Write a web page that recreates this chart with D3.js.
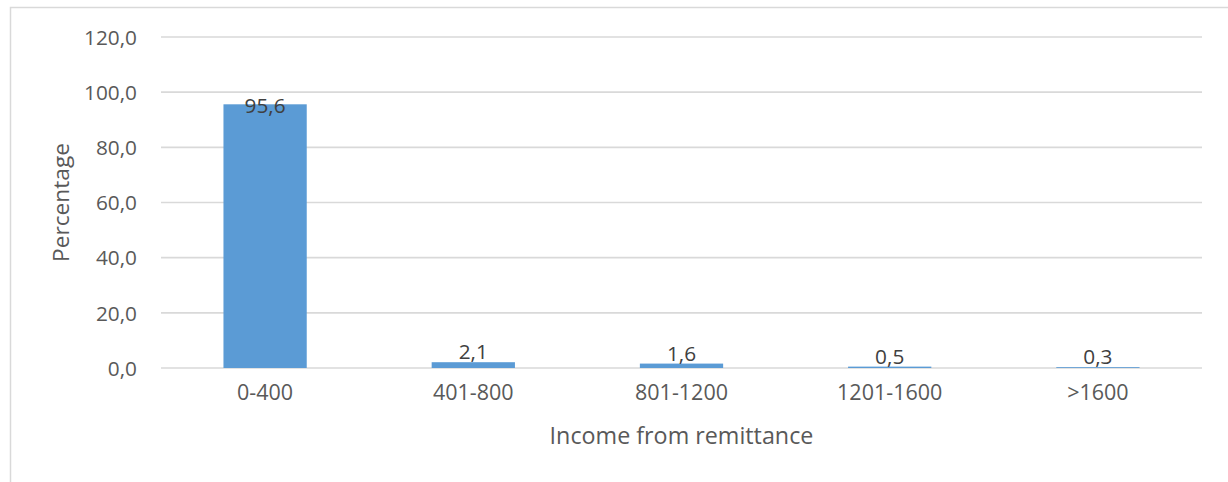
<!DOCTYPE html>
<html><head><meta charset="utf-8">
<script src="https://cdn.jsdelivr.net/npm/d3@7"></script>
<style>body{margin:0;background:#fff}svg{display:block}text{font-family:"Open Sans",sans-serif}</style>
</head><body>
<svg id="c" width="1228" height="482"></svg>
<script>
const categories = ["0-400", "401-800", "801-1200", "1201-1600", ">1600"];
const values = [95.6, 2.1, 1.6, 0.5, 0.3];
const yTicks = [0, 20, 40, 60, 80, 100, 120];
const xTitle = "Income from remittance";
const yTitle = "Percentage";

const svg = d3.select("#c");
const m = {left: 161, right: 1202, top: 37, bottom: 368};
const fmt = v => v.toFixed(1).replace(".", ",");

svg.append("path").attr("d", "M10.5,600 V7.5 H1300")
  .attr("fill", "none").attr("stroke", "#d9d9d9").attr("stroke-width", 1.5);

const x = d3.scaleBand().domain(categories).range([m.left, m.right]).paddingInner(0.6).paddingOuter(0.3);
const y = d3.scaleLinear().domain([0, 120]).range([m.bottom, m.top]);

// gridlines
svg.append("g").selectAll("line").data(yTicks).join("line")
  .attr("x1", m.left).attr("x2", m.right)
  .attr("y1", d => y(d)).attr("y2", d => y(d))
  .attr("stroke", "#d9d9d9").attr("stroke-width", 1.6);

// y axis labels
const ya = svg.append("g").attr("transform", `translate(${m.left},0)`)
  .call(d3.axisLeft(y).tickValues(yTicks).tickFormat(fmt).tickSize(0).tickPadding(24));
ya.select(".domain").remove();
ya.selectAll("text").attr("font-size", 20.8).attr("fill", "#595959")
  .attr("font-family", "Open Sans").attr("dy", "0.35em");

// bars
svg.append("g").selectAll("rect").data(values).join("rect")
  .attr("x", (d, i) => x(categories[i])).attr("width", x.bandwidth())
  .attr("y", d => y(d)).attr("height", d => y(0) - y(d))
  .attr("fill", "#5b9bd5");

// x axis labels
const xa = svg.append("g").attr("transform", `translate(0,${m.bottom})`)
  .call(d3.axisBottom(x).tickSize(0).tickPadding(17));
xa.select(".domain").remove();
xa.selectAll("text").attr("font-size", 21.5).attr("fill", "#595959")
  .attr("font-family", "Open Sans");

// data labels
svg.append("g").selectAll("text").data(values).join("text")
  .attr("x", (d, i) => x(categories[i]) + x.bandwidth() / 2)
  .attr("y", d => d > 50 ? y(d) + 9 : y(d) - 3)
  .attr("text-anchor", "middle").attr("font-size", 20.8).attr("fill", "#404040")
  .text(fmt);

// axis titles
svg.append("text").attr("x", (m.left + m.right) / 2).attr("y", 444)
  .attr("text-anchor", "middle").attr("font-size", 23.3).attr("fill", "#595959").text(xTitle);
svg.append("text").attr("transform", `translate(69,${(m.top + m.bottom) / 2}) rotate(-90)`)
  .attr("text-anchor", "middle").attr("font-size", 22.7).attr("fill", "#595959").text(yTitle);
</script>
</body></html>
